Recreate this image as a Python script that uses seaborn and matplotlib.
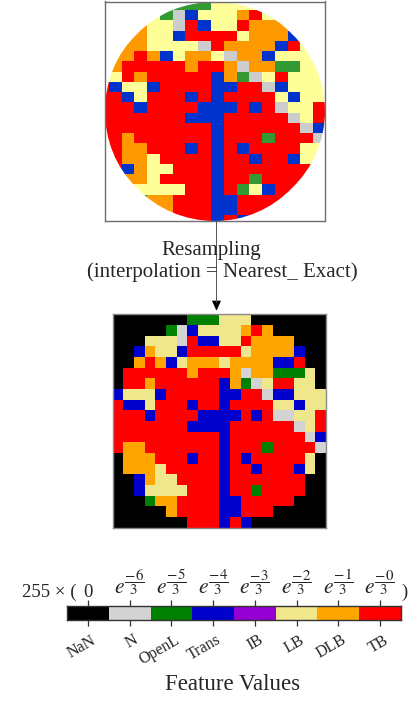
import numpy as np
import matplotlib
matplotlib.use("Agg")
import matplotlib.pyplot as plt
import seaborn as sns
from matplotlib.colors import ListedColormap
from matplotlib.patches import Circle, Polygon
from matplotlib.lines import Line2D

sns.set_theme(style="white")
plt.rcParams['font.family'] = ['Liberation Serif', 'DejaVu Serif']
plt.rcParams['mathtext.fontset'] = 'stix'

# Feature categories (code = position in this list)
LABELS = ['NaN', 'N', 'OpenL', 'Trans', 'IB', 'LB', 'DLB', 'TB']
EXPONENTS = ['-6', '-5', '-4', '-3', '-2', '-1', '-0']

TOP_COLORS = ['#000000', '#CCCCCC', '#339933', '#0033CC', '#9400D3', '#FFFF99', '#FF9900', '#FF0000']
BOTTOM_COLORS = ['#000000', '#D3D3D3', '#008000', '#0000CD', '#9400D3', '#F0E68C', '#FFA500', '#FF0000']

N = np.nan
# original wafer map (rows top->bottom), cells outside the die are NaN
wafer_rows = [
    [N, N, N, N, N, N, 2, 2, 2, 5, 5, 5, 5, N, N, N, N, N],
    [N, N, N, N, 5, 2, 1, 3, 5, 5, 5, 6, 7, 5, N, N, N, N],
    [N, N, N, 6, 5, 5, 1, 7, 3, 5, 5, 7, 6, 6, 6, N, N, N],
    [N, N, 6, 6, 5, 5, 3, 7, 7, 7, 7, 5, 6, 6, 6, 3, N, N],
    [N, N, 6, 6, 5, 5, 5, 5, 1, 7, 6, 6, 6, 6, 3, 7, 5, N],
    [N, 6, 6, 7, 6, 3, 5, 6, 6, 5, 1, 6, 6, 3, 5, 5, 5, 5],
    [N, 6, 7, 7, 7, 7, 7, 6, 7, 7, 6, 1, 6, 6, 2, 2, 5, 5],
    [N, 5, 7, 6, 7, 7, 7, 7, 7, 3, 6, 2, 1, 5, 7, 5, 5, 5],
    [7, 3, 5, 5, 3, 7, 7, 7, 7, 3, 3, 7, 7, 1, 3, 5, 5, 5],
    [7, 7, 3, 5, 7, 7, 7, 3, 7, 3, 7, 7, 7, 7, 5, 3, 5, 5],
    [7, 7, 7, 3, 7, 7, 7, 7, 3, 3, 3, 7, 3, 7, 1, 5, 5, 7],
    [7, 7, 7, 7, 7, 7, 7, 3, 3, 3, 7, 7, 7, 7, 7, 1, 5, 7],
    [7, 7, 7, 7, 7, 7, 7, 7, 7, 3, 7, 7, 7, 7, 7, 7, 1, 3],
    [7, 7, 6, 7, 7, 7, 7, 7, 7, 3, 7, 7, 7, 2, 7, 7, 7, 1],
    [7, 7, 6, 6, 7, 7, 7, 3, 7, 3, 7, 3, 7, 7, 7, 7, 5, 5],
    [N, 7, 6, 6, 5, 7, 7, 7, 7, 3, 7, 7, 3, 7, 7, 3, 5, 5],
    [N, 7, 3, 6, 5, 5, 7, 7, 7, 3, 7, 7, 7, 7, 7, 7, 7, 7],
    [N, N, 6, 6, 5, 7, 7, 7, 7, 3, 7, 7, 2, 7, 7, 7, 7, N],
    [N, N, 5, 5, 5, 5, 5, 7, 7, 3, 7, 2, 5, 3, 7, 7, 7, N],
    [N, N, N, 2, 6, 6, 7, 7, 7, 3, 3, 7, 7, 7, 7, 7, N, N],
    [N, N, N, N, 6, 6, 7, 7, 7, 3, 3, 7, 7, 7, 7, N, N, N],
    [N, N, N, N, N, N, 7, 7, 7, 3, 7, 3, 7, N, N, N, N, N],
]

# resampled 20x20 map
resampled_rows = [
    [0, 0, 0, 0, 0, 0, 0, 2, 2, 2, 5, 5, 5, 0, 0, 0, 0, 0, 0, 0],
    [0, 0, 0, 0, 0, 2, 1, 3, 5, 5, 5, 5, 6, 7, 6, 0, 0, 0, 0, 0],
    [0, 0, 0, 5, 5, 5, 1, 7, 3, 3, 5, 5, 7, 6, 6, 6, 6, 0, 0, 0],
    [0, 0, 3, 6, 5, 5, 3, 7, 7, 7, 7, 7, 5, 6, 6, 6, 6, 3, 0, 0],
    [0, 0, 6, 7, 6, 3, 5, 6, 6, 6, 5, 6, 6, 6, 6, 3, 3, 7, 0, 0],
    [0, 7, 7, 7, 7, 7, 7, 6, 7, 7, 7, 6, 1, 6, 6, 2, 2, 2, 5, 0],
    [0, 7, 7, 6, 7, 7, 7, 7, 7, 7, 3, 6, 2, 1, 5, 7, 7, 5, 5, 0],
    [3, 5, 5, 5, 3, 7, 7, 7, 7, 7, 3, 3, 7, 7, 1, 3, 3, 5, 5, 5],
    [7, 3, 3, 5, 7, 7, 7, 3, 7, 7, 3, 7, 7, 7, 7, 5, 5, 3, 5, 5],
    [7, 7, 7, 3, 7, 7, 7, 7, 3, 3, 3, 3, 7, 3, 7, 1, 1, 5, 5, 7],
    [7, 7, 7, 7, 7, 7, 7, 3, 3, 3, 3, 7, 7, 7, 7, 7, 7, 1, 5, 7],
    [7, 7, 7, 7, 7, 7, 7, 7, 7, 7, 3, 7, 7, 7, 7, 7, 7, 7, 1, 3],
    [7, 6, 6, 7, 7, 7, 7, 7, 7, 7, 3, 7, 7, 7, 2, 7, 7, 7, 7, 1],
    [0, 6, 6, 6, 7, 7, 7, 3, 7, 7, 3, 7, 3, 7, 7, 7, 7, 7, 5, 0],
    [0, 6, 6, 6, 5, 7, 7, 7, 7, 7, 3, 7, 7, 3, 7, 7, 7, 3, 5, 0],
    [0, 0, 3, 6, 5, 5, 7, 7, 7, 7, 3, 7, 7, 7, 7, 7, 7, 7, 0, 0],
    [0, 0, 3, 5, 5, 5, 5, 7, 7, 7, 3, 7, 7, 2, 7, 7, 7, 7, 0, 0],
    [0, 0, 0, 2, 6, 6, 7, 7, 7, 7, 3, 3, 7, 7, 7, 7, 7, 0, 0, 0],
    [0, 0, 0, 0, 0, 6, 7, 7, 7, 7, 3, 3, 7, 7, 7, 0, 0, 0, 0, 0],
    [0, 0, 0, 0, 0, 0, 0, 7, 7, 7, 3, 7, 3, 0, 0, 0, 0, 0, 0, 0],
]

W, H = 418, 704
fig = plt.figure(figsize=(W / 100, H / 100), dpi=100)
fig.patch.set_facecolor('white')


def box(l, t, r, b):
    return [l / W, 1 - b / H, (r - l) / W, (b - t) / H]


def fx(x):
    return x / W


def fy(y):
    return 1 - y / H


top_cmap = ListedColormap(TOP_COLORS)
bot_cmap = ListedColormap(BOTTOM_COLORS)
n_cat = len(LABELS)

# ---- original wafer map, clipped to the die circle ----
ax_top = fig.add_axes(box(104.5, 1.5, 324.5, 220.5))
sns.heatmap(np.array(wafer_rows, dtype=float), ax=ax_top, cmap=top_cmap,
            vmin=-0.5, vmax=n_cat - 0.5, cbar=False,
            xticklabels=False, yticklabels=False)
ax_top.set_xlim((104.5 - 108.8) / 12.77 + 1, (324.5 - 108.8) / 12.77 + 1)
ax_top.set_ylim((220.5 + 0.1) / 10.25, (1.5 + 0.1) / 10.25)
die = Circle((0.5, 0.5), 0.5, transform=ax_top.transAxes)
ax_top.collections[0].set_clip_path(die)
for s in ax_top.spines.values():
    s.set_visible(True)
    s.set_color('#6e6e6e')
    s.set_linewidth(1.0)

# ---- resampled map ----
ax_bot = fig.add_axes(box(112.7, 314.3, 326.0, 527.5))
sns.heatmap(np.array(resampled_rows), ax=ax_bot, cmap=bot_cmap,
            vmin=-0.5, vmax=n_cat - 0.5, cbar=False,
            xticklabels=False, yticklabels=False)
for s in ax_bot.spines.values():
    s.set_visible(True)
    s.set_color('#8a8a8a')
    s.set_linewidth(1.0)

# ---- connector arrow and caption ----
fig.add_artist(Line2D([fx(216.5), fx(216.5)], [fy(221), fy(302)],
                      transform=fig.transFigure, color='#555555', lw=0.7))
fig.add_artist(Polygon([[fx(212.5), fy(301)], [fx(220.5), fy(301)], [fx(216.5), fy(310)]],
                       closed=True, transform=fig.transFigure,
                       facecolor='black', edgecolor='black', lw=0.5))
fig.text(fx(211), fy(255), 'Resampling', ha='center', va='baseline', fontsize=15)
fig.text(fx(222), fy(277), '(interpolation = Nearest_ Exact)', ha='center',
         va='baseline', fontsize=15)

# ---- colour key ----
ax_cb = fig.add_axes(box(67.3, 606, 400.7, 620))
sns.heatmap(np.arange(n_cat)[None, :], ax=ax_cb, cmap=bot_cmap,
            vmin=-0.5, vmax=n_cat - 0.5, cbar=False,
            xticklabels=False, yticklabels=False)
for s in ax_cb.spines.values():
    s.set_visible(True)
    s.set_color('#333333')
    s.set_linewidth(1.0)
ax_cb.set_xticks(np.arange(n_cat) + 0.5)
ax_cb.set_xticklabels([])
ax_cb.tick_params(axis='x', which='both', bottom=True, top=True, direction='out',
                  length=4, width=0.9, color='#333333')

seg = (400.7 - 67.3) / n_cat
tick_x = [67.3 + seg * (i + 0.5) for i in range(n_cat)]

for x, lab in zip(tick_x, LABELS):
    fig.text(fx(x + 3), fy(632), lab, rotation=30, rotation_mode='anchor',
             ha='right', va='top', fontsize=11.5)

fig.text(fx(76), fy(597), '255 × (', ha='right', va='baseline', fontsize=13.5)
fig.text(fx(tick_x[0]), fy(597), '0', ha='center', va='baseline', fontsize=13.5)
for x, ex in zip(tick_x[1:], EXPONENTS):
    fig.text(fx(x), fy(594), r'$e^{\dfrac{%s}{3}}$' % ex, ha='center',
             va='baseline', fontsize=15.5)
fig.text(fx(405), fy(597), ')', ha='center', va='baseline', fontsize=13.5)

fig.text(fx(232.5), fy(690), 'Feature Values', ha='center', va='baseline',
         fontsize=16.5)

fig.savefig('out.png', dpi=100, facecolor='white')
